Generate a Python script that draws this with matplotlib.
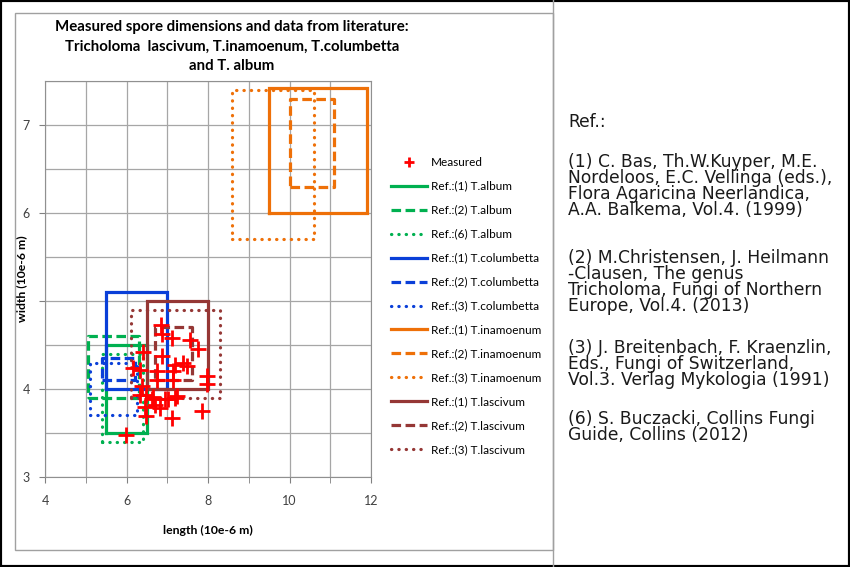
import numpy as np
import matplotlib.pyplot as plt
from matplotlib.lines import Line2D
from matplotlib.patches import Rectangle

# measured spores (length, width) in 10e-6 m
meas_len = [6.84, 6.88, 7.11, 7.56, 7.76, 6.86, 6.74, 7.19, 7.39, 7.48, 7.15, 6.74, 7.13,
            7.97, 7.97, 6.62, 6.94, 7.19, 6.82, 7.11, 7.85, 6.41, 6.33, 6.17, 6.37, 6.33,
            6.49, 6.45, 6.49, 5.99, 6.66, 6.70, 7.03, 7.23]
meas_wid = [4.73, 4.62, 4.58, 4.56, 4.45, 4.37, 4.20, 4.27, 4.29, 4.26, 4.20, 4.10, 4.10,
            4.15, 4.06, 3.89, 3.89, 3.90, 3.78, 3.67, 3.75, 4.42, 4.22, 4.24, 4.03, 3.93,
            3.93, 3.80, 3.69, 3.48, 3.91, 3.82, 3.89, 3.92]

# literature ranges: label, length min, length max, width min, width max
ref_labels = ['Ref.:(1) T.album', 'Ref.:(2) T.album', 'Ref.:(6) T.album',
              'Ref.:(1) T.columbetta', 'Ref.:(2) T.columbetta', 'Ref.:(3) T.columbetta',
              'Ref.:(1) T.inamoenum', 'Ref.:(2) T.inamoenum', 'Ref.:(3) T.inamoenum',
              'Ref.:(1) T.lascivum', 'Ref.:(2) T.lascivum', 'Ref.:(3) T.lascivum']
len_min = [5.5, 5.05, 5.4, 5.5, 5.4, 5.1, 9.5, 10.0, 8.6, 6.5, 6.7, 6.1]
len_max = [6.5, 6.3, 6.4, 7.0, 6.2, 6.25, 11.9, 11.1, 10.6, 8.0, 7.6, 8.3]
wid_min = [3.5, 3.9, 3.4, 4.0, 4.1, 3.7, 6.0, 6.3, 5.7, 4.0, 4.1, 3.9]
wid_max = [4.5, 4.6, 4.4, 5.1, 4.35, 4.3, 7.42, 7.3, 7.4, 5.0, 4.7, 4.9]

colors = ['#00b050'] * 3 + ['#0a3fd8'] * 3 + ['#ee7008'] * 3 + ['#953735'] * 3
styles = [('solid', None), ('dashed', (0, (3.0, 1.4))), ('dotted', (0, (0.1, 2.2)))] * 4

plt.rcParams['font.family'] = ['Lato', 'DejaVu Sans']

fig = plt.figure(figsize=(8.5, 5.67), dpi=100)
ax = fig.add_axes([45/850, 1-477/567, 326/850, 396/567])

handles = []
h = ax.plot(meas_len, meas_wid, '+', color='red', ms=11.5, mew=2, label='Measured', zorder=5)
handles.append(h[0])
for i in range(len(ref_labels)):
    xs = [len_min[i], len_max[i], len_max[i], len_min[i], len_min[i]]
    ys = [wid_min[i], wid_min[i], wid_max[i], wid_max[i], wid_min[i]]
    name, pat = styles[i]
    ls = '-' if pat is None else pat
    cap = 'round' if name == 'dotted' else 'butt'
    h = ax.plot(xs, ys, color=colors[i], lw=2.3, linestyle=ls, dash_capstyle=cap,
                solid_joinstyle='miter', label=ref_labels[i], zorder=3)
    handles.append(h[0])

ax.set_xlim(4, 12)
ax.set_ylim(3, 7.5)
ax.set_xticks([4, 6, 8, 10, 12])
ax.set_xticks(np.arange(4, 13, 1), minor=True)
ax.set_yticks([3, 4, 5, 6, 7])
ax.set_yticklabels(['3', '4', '', '6', '7'])
ax.set_yticks(np.arange(3, 7.6, 0.5), minor=True)
ax.grid(True, which='both', color='#a6a6a6', lw=0.9)
ax.set_axisbelow(True)
ax.tick_params(which='both', direction='out', length=4, color='#808080',
               labelsize=9, labelcolor='#404040')
ax.tick_params(axis='x', pad=9)
ax.tick_params(axis='y', pad=7)
ax.tick_params(axis='y', which='minor', length=0)
for s in ax.spines.values():
    s.set_color('#909090')
ax.set_xlabel('length (10e-6 m)', fontsize=8.8, fontweight='bold')
ax.xaxis.set_label_coords(0.5, -0.12)
ax.set_ylabel('width (10e-6 m)', fontsize=8.8, fontweight='bold')
ax.yaxis.set_label_coords(-0.055, 0.5)

fig.text(232/850, 1-47/567, 'Measured spore dimensions and data from literature:\n'
         'Tricholoma  lascivum, T.inamoenum, T.columbetta\nand T. album',
         ha='center', va='center', fontsize=10.8, fontweight='bold', linespacing=1.5)

leg = fig.legend(handles=handles, loc='upper left', bbox_to_anchor=(386/850, 1-152/567),
                 frameon=False, fontsize=8.5, handlelength=3.1, handletextpad=0.3,
                 labelspacing=1.1, borderaxespad=0, markerscale=0.6)

refs = ['Ref.:',
        '(1) C. Bas, Th.W.Kuyper, M.E.\nNordeloos, E.C. Vellinga (eds.),\nFlora Agaricina Neerlandica,\nA.A. Balkema, Vol.4. (1999)',
        '(2) M.Christensen, J. Heilmann\n-Clausen, The genus\nTricholoma, Fungi of Northern\nEurope, Vol.4. (2013)',
        '(3) J. Breitenbach, F. Kraenzlin,\nEds., Fungi of Switzerland,\nVol.3. Verlag Mykologia (1991)',
        '(6) S. Buczacki, Collins Fungi\nGuide, Collins (2012)']
ref_top = [113, 153, 249, 339, 410]
for t, y in zip(refs, ref_top):
    fig.text(568/850, 1-y/567, t, ha='left', va='top', fontsize=12.3,
             family='DejaVu Sans', color='#1a1a1a', linespacing=0.86)

# frames
fig.patches.append(Rectangle((15/850, 1-550/567), 538/850, 537/567, transform=fig.transFigure,
                             fill=False, ec='#a0a0a0', lw=1))
fig.add_artist(Line2D([553/850, 553/850], [0, 1], color='#a0a0a0', lw=1))
fig.patches.append(Rectangle((0, 0), 1, 1, transform=fig.transFigure,
                             fill=False, ec='black', lw=3))

fig.savefig('out.png', dpi=100)
